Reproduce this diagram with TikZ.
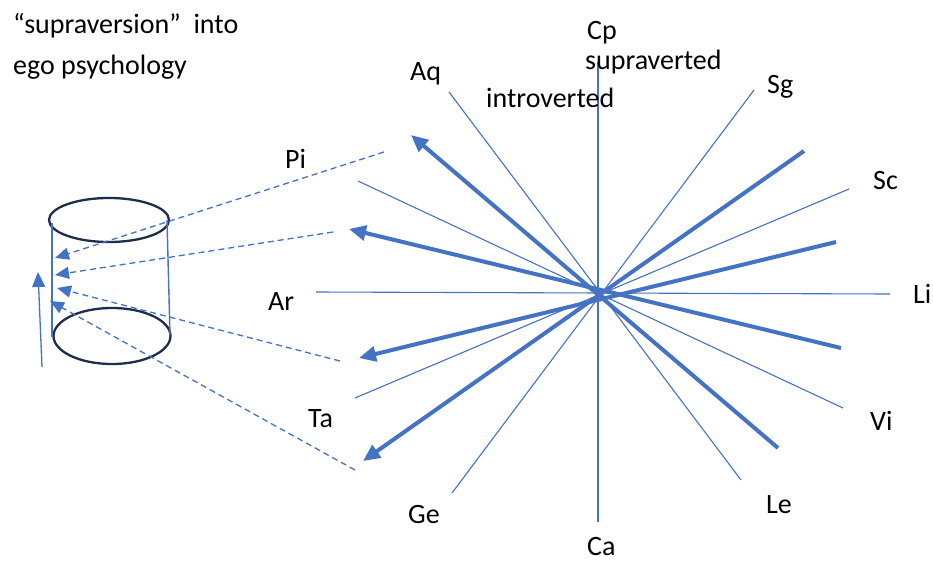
\documentclass[tikz,border=0pt]{standalone}
\usepackage{fontspec}
\setmainfont{Carlito}
\usetikzlibrary{arrows.meta,shapes.geometric}
\definecolor{spokeblue}{HTML}{4472C4}
\definecolor{rimnavy}{HTML}{1F2D4D}
\tikzset{
    spoke/.style={draw=spokeblue, line width=1.1pt},
    boldspoke/.style={draw=spokeblue, line width=4pt,
        -{Triangle[length=17pt, width=15pt]}},
    projarrow/.style={draw=spokeblue, line width=1.3pt, dash pattern=on 6pt off 4pt,
        -{Triangle[length=14pt, width=12pt]}},
    rim/.style={draw=rimnavy, line width=2.3pt, ellipse, inner sep=0pt},
    sign/.style={anchor=base west, inner sep=0pt, font=\fontsize{28}{34}\selectfont}
}
\begin{document}
\begin{tikzpicture}[x=1pt, y=-1pt]
\useasboundingbox (0,0) rectangle (933,562);
% title
\node[sign] (title1) at (13,33) {“supraversion”~ into};
\node[sign] (title2) at (13,74) {ego psychology};
% spoke ends
\coordinate (cpTop) at (598,62);
\coordinate (caBot) at (598,522);
\coordinate (arEnd) at (316,292);
\coordinate (liEnd) at (890,294);
\coordinate (aqEnd) at (449,92);
\coordinate (leEnd) at (741,480);
\coordinate (sgEnd) at (754,90);
\coordinate (geEnd) at (452,493);
\coordinate (piEnd) at (358,181);
\coordinate (viEnd) at (843,408);
\coordinate (taEnd) at (355,398);
\coordinate (scEnd) at (849,189);
\draw[spoke] (cpTop) -- (caBot);
\draw[spoke] (arEnd) -- (liEnd);
\draw[spoke] (aqEnd) -- (leEnd);
\draw[spoke] (sgEnd) -- (geEnd);
\draw[spoke] (piEnd) -- (viEnd);
\draw[spoke] (taEnd) -- (scEnd);
% bold spokes
\coordinate (boldA) at (778,448);
\coordinate (tipA) at (411,135);
\coordinate (boldB) at (841,348);
\coordinate (tipB) at (349,229);
\coordinate (boldC) at (836,242);
\coordinate (tipC) at (359,358);
\coordinate (boldD) at (804,151);
\coordinate (tipD) at (363,461);
\draw[boldspoke] (boldA) -- (tipA);
\draw[boldspoke] (boldB) -- (tipB);
\draw[boldspoke] (boldC) -- (tipC);
\draw[boldspoke] (boldD) -- (tipD);
% labels
\node[sign] (cp) at (587,39) {Cp};
\node[sign] (supra) at (585,69) {supraverted};
\node[sign] (intro) at (486,107) {introverted};
\node[sign] (aq) at (410,80) {Aq};
\node[sign] (sg) at (767,93) {Sg};
\node[sign] (sc) at (873,189) {Sc};
\node[sign] (li) at (913,303) {Li};
\node[sign] (vi) at (870,430) {Vi};
\node[sign] (le) at (766,513) {Le};
\node[sign] (ca) at (587,555) {Ca};
\node[sign] (ge) at (408,523) {Ge};
\node[sign] (ta) at (308,427) {Ta};
\node[sign] (ar) at (268,310) {Ar};
\node[sign] (pi) at (285,168) {Pi};
% cylinder
\node[rim, minimum width=120pt, minimum height=44pt] (cyltop) at (109,220) {};
\node[rim, minimum width=117pt, minimum height=56pt] (cylbot) at (112,336) {};
\draw[draw=spokeblue, line width=1.4pt] (52,223) -- (52,337);
\draw[draw=spokeblue, line width=1.4pt] (167,220) -- (170,335);
% projections onto the cylinder
\coordinate (projA) at (384,152);
\coordinate (hitA) at (55,258);
\coordinate (projB) at (333,232);
\coordinate (hitB) at (55,275);
\coordinate (projC) at (340,361);
\coordinate (hitC) at (57,288);
\coordinate (projD) at (355,470);
\coordinate (hitD) at (50,301);
\draw[projarrow] (projA) -- (hitA);
\draw[projarrow] (projB) -- (hitB);
\draw[projarrow] (projC) -- (hitC);
\draw[projarrow] (projD) -- (hitD);
\coordinate (riseFoot) at (42,367);
\coordinate (riseTip) at (38,272);
\draw[draw=spokeblue, line width=1.3pt, -{Triangle[length=15pt, width=13pt]}] (riseFoot) -- (riseTip);
\end{tikzpicture}
\end{document}
